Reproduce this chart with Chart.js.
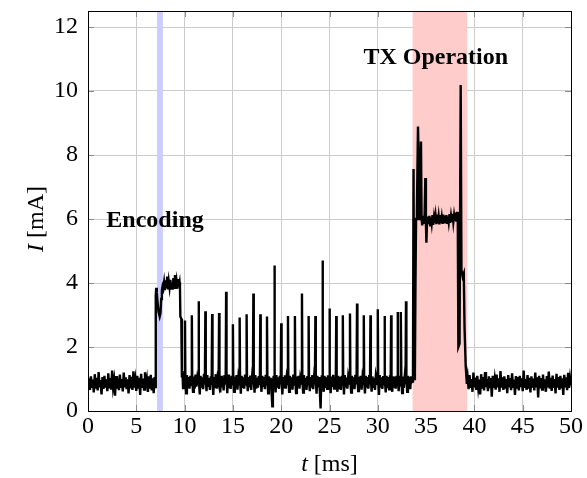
<!DOCTYPE html>
<html>
<head>
<meta charset="utf-8">
<title>Current trace</title>
<script src="https://cdn.jsdelivr.net/npm/chart.js@4.4.1/dist/chart.umd.min.js"></script>
<style>
  html, body { margin: 0; padding: 0; background: #fff; }
  #wrap { width: 587px; height: 478px; position: relative; }
</style>
</head>
<body>
<div id="wrap"><canvas id="trace"></canvas></div>
<script>
var idleBefore = [
  [0,0.80],[0.1,1.02],[0.2,0.66],[0.3,1.08],[0.4,0.72],[0.5,0.98],[0.6,0.58],[0.7,1.15],[0.8,0.70],[0.9,1.04],
  [1.0,0.64],[1.1,1.22],[1.2,0.74],[1.3,0.97],[1.4,0.52],[1.5,1.06],[1.6,0.69],[1.7,1.10],[1.8,0.73],[1.9,0.99],
  [2.0,0.62],[2.1,1.18],[2.2,0.71],[2.3,1.03],[2.4,0.67],[2.5,1.26],[2.6,0.75],[2.7,0.96],[2.8,0.48],[2.9,1.09],
  [3.0,0.70],[3.1,1.02],[3.2,0.65],[3.3,1.14],[3.4,0.72],[3.5,1.00],[3.6,0.61],[3.7,1.20],[3.8,0.74],[3.9,1.05],
  [4.0,0.68],[4.1,0.99],[4.2,0.55],[4.3,1.12],[4.4,0.71],[4.5,1.07],[4.6,0.66],[4.7,1.24],[4.8,0.73],[4.9,0.98],
  [5.0,0.63],[5.1,1.10],[5.2,0.70],[5.3,1.04],[5.4,0.50],[5.5,1.16],[5.6,0.72],[5.7,1.01],[5.8,0.67],[5.9,1.21],
  [6.0,0.74],[6.1,0.97],[6.2,0.60],[6.3,1.08],[6.4,0.70],[6.5,1.13],[6.6,0.64],[6.7,1.02],[6.8,0.56],[6.9,1.06],
  [6.95,0.75]
];

var encodingBurst = [
  [7.0,0.85],[7.03,3.6],[7.06,3.85],[7.12,3.7],[7.2,3.4],[7.3,3.1],[7.42,2.95],[7.5,3.05],[7.58,3.5],[7.65,3.78],
  [7.72,3.9],[7.8,3.82],[7.88,4.02],[7.96,3.78],[8.04,4.08],[8.12,3.84],[8.2,4.2],[8.28,3.8],[8.36,4.05],[8.44,3.86],
  [8.52,4.1],[8.6,3.83],[8.68,4.0],[8.76,3.79],[8.84,4.15],[8.92,3.85],[9.0,4.25],[9.08,3.88],[9.16,4.06],[9.24,3.82],
  [9.32,4.12],[9.4,3.9],[9.48,4.02],[9.52,3.85],[9.56,2.95],[9.66,2.88],[9.72,1.05],[9.78,1.25],[9.84,0.72],[9.92,1.08],
  [9.98,0.8]
];

var pulseTrain = [
  [10.04,2.83],[10.08,1.0],[10.16,0.55],[10.24,1.12],[10.33,0.74],[10.42,1.06],[10.51,0.7],[10.6,1.1],[10.69,0.82],
  [10.75,2.99],[10.79,0.98],[10.87,0.6],[10.95,1.08],[11.04,0.7],[11.13,1.14],[11.22,0.76],[11.31,1.02],[11.4,0.85],
  [11.45,3.43],[11.49,1.0],[11.57,0.52],[11.65,1.1],[11.74,0.73],[11.83,1.05],[11.92,0.68],[12.01,1.16],[12.1,0.84],
  [12.15,3.12],[12.19,0.96],[12.27,0.62],[12.35,1.12],[12.44,0.75],[12.53,1.03],[12.62,0.66],[12.71,1.08],[12.8,0.82],
  [12.85,3.03],[12.89,1.0],[12.97,0.5],[13.05,1.06],[13.14,0.72],[13.23,1.15],[13.32,0.7],[13.41,1.02],[13.52,0.86],
  [13.57,3.06],[13.61,0.98],[13.69,0.58],[13.77,1.1],[13.86,0.74],[13.95,1.04],[14.04,0.64],[14.13,1.12],[14.25,0.83],
  [14.3,3.73],[14.34,1.0],[14.42,0.56],[14.5,1.14],[14.59,0.71],[14.68,1.06],[14.77,0.69],[14.86,1.1],[14.95,0.85],
  [15.0,2.71],[15.04,0.97],[15.12,0.6],[15.2,1.08],[15.29,0.75],[15.38,1.12],[15.47,0.67],[15.56,1.03],[15.65,0.84],
  [15.7,2.92],[15.74,1.0],[15.82,0.54],[15.9,1.1],[15.99,0.72],[16.08,1.05],[16.17,0.7],[16.26,1.14],[16.37,0.83],
  [16.42,3.02],[16.46,0.98],[16.54,0.62],[16.62,1.06],[16.71,0.74],[16.8,1.11],[16.89,0.66],[16.98,1.04],[17.07,0.85],
  [17.12,3.67],[17.16,1.0],[17.24,0.57],[17.32,1.12],[17.41,0.7],[17.5,1.04],[17.59,0.73],[17.68,1.09],[17.79,0.82],
  [17.84,3.02],[17.88,0.96],[17.96,0.6],[18.04,1.1],[18.13,0.75],[18.22,1.06],[18.31,0.68],[18.4,1.13],[18.48,0.84],
  [18.53,2.95],[18.57,1.0],[18.65,0.55],[18.73,1.08],[18.82,0.72],[18.91,1.04],[19.0,0.62],[19.08,0.15],[19.14,0.9],[19.22,1.1],[19.26,0.85],
  [19.3,4.55],[19.34,1.0],[19.42,0.58],[19.5,1.12],[19.59,0.73],[19.68,1.05],[19.77,0.69],[19.86,1.1],[19.95,0.84],
  [20.0,2.74],[20.04,0.98],[20.12,0.52],[20.2,1.06],[20.29,0.74],[20.38,1.12],[20.47,0.7],[20.56,1.03],[20.65,0.85],
  [20.7,2.97],[20.74,1.0],[20.82,0.6],[20.9,1.1],[20.99,0.71],[21.08,1.05],[21.17,0.67],[21.26,1.14],[21.37,0.83],
  [21.42,2.97],[21.46,0.97],[21.54,0.56],[21.62,1.08],[21.71,0.75],[21.8,1.1],[21.89,0.7],[21.98,1.04],[22.1,0.86],
  [22.15,3.67],[22.19,1.0],[22.27,0.58],[22.35,1.12],[22.44,0.72],[22.53,1.04],[22.62,0.66],[22.71,1.09],[22.79,0.84],
  [22.84,2.97],[22.88,0.98],[22.96,0.62],[23.04,1.06],[23.13,0.73],[23.22,1.12],[23.31,0.68],[23.4,1.05],[23.49,0.85],
  [23.54,2.97],[23.58,1.0],[23.66,0.54],[23.74,1.1],[23.83,0.74],[23.92,1.06],[24.0,0.6],[24.08,0.08],[24.14,0.88],[24.2,1.12],[24.24,0.84],
  [24.28,4.7],[24.32,0.98],[24.4,0.6],[24.48,1.1],[24.57,0.72],[24.66,1.05],[24.75,0.69],[24.84,1.12],[24.95,0.83],
  [25.0,3.2],[25.04,1.0],[25.12,0.56],[25.2,1.08],[25.29,0.75],[25.38,1.13],[25.47,0.7],[25.56,1.04],[25.65,0.85],
  [25.7,2.97],[25.74,0.97],[25.82,0.6],[25.9,1.1],[25.99,0.72],[26.08,1.06],[26.17,0.66],[26.26,1.1],[26.33,0.84],
  [26.38,2.99],[26.42,1.0],[26.5,0.52],[26.58,1.12],[26.67,0.74],[26.76,1.04],[26.85,0.7],[26.94,1.08],[27.07,0.86],
  [27.12,3.05],[27.16,0.98],[27.24,0.58],[27.32,1.1],[27.41,0.71],[27.5,1.05],[27.59,0.68],[27.68,1.13],[27.8,0.83],
  [27.85,3.36],[27.89,1.0],[27.97,0.62],[28.05,1.07],[28.14,0.75],[28.23,1.1],[28.32,0.67],[28.41,1.03],[28.5,0.85],
  [28.55,2.99],[28.59,0.97],[28.67,0.55],[28.75,1.1],[28.84,0.73],[28.93,1.06],[29.02,0.7],[29.11,1.12],[29.19,0.84],
  [29.24,2.99],[29.28,1.0],[29.36,0.6],[29.44,1.08],[29.53,0.72],[29.62,1.04],[29.71,0.66],[29.8,1.1],[29.95,0.85],
  [30.0,3.18],[30.04,0.98],[30.12,0.5],[30.2,1.12],[30.29,0.74],[30.38,1.05],[30.47,0.69],[30.56,1.09],[30.65,0.84],
  [30.7,2.97],[30.74,1.0],[30.82,0.58],[30.9,1.1],[30.99,0.71],[31.08,1.06],[31.17,0.68],[31.26,1.12],[31.33,0.85],
  [31.38,2.99],[31.42,0.97],[31.5,0.6],[31.58,1.08],[31.67,0.73],[31.76,1.04],[31.85,0.7],[31.94,1.1],[32.0,0.86],
  [32.05,3.09],[32.09,1.0],[32.16,0.62],[32.24,1.1],[32.32,0.8],[32.36,1.0],
  [32.4,3.09],[32.44,0.98],[32.52,0.56],[32.6,1.08],[32.69,0.72],[32.78,1.05],[32.87,0.85],
  [32.92,3.43],[32.96,1.0],[33.04,0.6],[33.12,1.1],[33.2,0.72],[33.28,1.06],[33.36,0.68],[33.44,1.08],[33.52,0.9]
];

var txBurst = [
  [33.58,0.92],[33.64,1.0],[33.7,7.56],[33.76,1.0],[33.84,1.2],[33.9,4.0],[33.96,6.0],[34.05,6.3],[34.16,8.89],[34.22,8.0],
  [34.28,6.0],[34.36,6.2],[34.47,8.42],[34.53,6.0],[34.6,5.8],[34.68,6.1],[34.76,5.85],[34.84,6.05],[34.92,7.28],[34.98,5.9],
  [35.03,5.26],[35.1,5.95],[35.18,6.08],[35.26,5.84],[35.34,6.1],[35.42,5.8],[35.5,6.05],[35.58,5.86],[35.66,6.12],[35.74,5.82],
  [35.82,6.06],[35.9,5.88],[35.98,6.1],[36.06,5.84],[36.14,6.14],[36.22,5.86],[36.3,6.08],[36.38,5.83],[36.46,6.12],[36.54,5.88],
  [36.62,6.06],[36.7,5.85],[36.78,6.14],[36.86,5.9],[36.94,6.1],[37.02,5.86],[37.1,6.12],[37.18,5.88],[37.26,6.08],[37.34,5.9],
  [37.42,6.15],[37.5,5.88],[37.58,6.1],[37.66,5.92],[37.74,6.16],[37.82,5.9],[37.9,6.12],[37.98,5.95],[38.06,6.2],[38.14,5.92],
  [38.22,6.22],[38.28,6.0],[38.34,2.0],[38.46,2.1],[38.58,10.19],[38.66,4.4],[38.78,4.2],[38.9,4.3],[38.98,2.6],[39.1,1.4],
  [39.22,0.85]
];

var idleAfter = [
  [39.3,1.05],[39.4,0.68],[39.5,1.12],[39.6,0.72],[39.7,1.0],[39.8,0.6],[39.9,1.2],[40.0,0.74],[40.1,1.04],[40.2,0.66],
  [40.3,1.1],[40.4,0.73],[40.5,0.98],[40.6,0.52],[40.7,1.15],[40.8,0.7],[40.9,1.06],[41.0,0.64],[41.1,1.22],[41.2,0.75],
  [41.3,1.0],[41.4,0.62],[41.5,1.08],[41.6,0.71],[41.7,1.03],[41.8,0.45],[41.9,1.1],[42.0,0.72],[42.1,0.99],[42.2,0.67],
  [42.3,1.14],[42.4,0.74],[42.5,1.02],[42.6,0.6],[42.7,1.25],[42.8,0.73],[42.9,1.05],[43.0,0.66],[43.1,1.08],[43.2,0.7],
  [43.3,1.0],[43.4,0.56],[43.5,1.12],[43.6,0.74],[43.7,1.03],[43.8,0.65],[43.9,1.18],[44.0,0.72],[44.1,0.98],[44.2,0.5],
  [44.3,1.09],[44.4,0.7],[44.5,1.06],[44.6,0.64],[44.7,1.1],[44.8,0.75],[44.9,1.02],[45.0,0.62],[45.1,1.26],[45.2,0.72],
  [45.3,1.0],[45.4,0.66],[45.5,1.12],[45.6,0.7],[45.7,1.04],[45.8,0.58],[45.9,1.08],[46.0,0.73],[46.1,1.01],[46.2,0.64],
  [46.3,1.2],[46.4,0.74],[46.5,1.05],[46.6,0.42],[46.7,1.1],[46.8,0.71],[46.9,1.03],[47.0,0.67],[47.1,1.14],[47.2,0.72],
  [47.3,0.99],[47.4,0.6],[47.5,1.09],[47.6,0.74],[47.7,1.23],[47.8,0.7],[47.9,1.04],[48.0,0.63],[48.1,1.11],[48.2,0.72],
  [48.3,1.0],[48.4,0.55],[48.5,1.16],[48.6,0.73],[48.7,1.06],[48.8,0.66],[48.9,1.1],[49.0,0.71],[49.1,1.02],[49.2,0.5],
  [49.3,1.13],[49.4,0.74],[49.5,1.05],[49.6,0.65],[49.7,1.19],[49.8,0.72],[49.9,1.03],[50.0,0.8]
];

// shaded windows [from, to] in ms
var encodingWindow = [7.15, 7.75];
var txWindow = [33.6, 39.25];

// text notes: label, t (ms), I (mA)
var noteLabels = ['Encoding', 'TX Operation'];
var noteT = [6.94, 36.0];
var noteI = [5.95, 11.03];

var xTickValues = [0, 5, 10, 15, 20, 25, 30, 35, 40, 45, 50];
var yTickValues = [0, 2, 4, 6, 8, 10, 12];

var SERIF = '"Liberation Serif", "Times New Roman", Times, serif';

var trace = idleBefore.concat(encodingBurst, pulseTrain, txBurst, idleAfter).map(function(p) {
  return { x: p[0], y: p[1] };
});

// draws mixed italic/upright text centred on (0,0) of current transform
function mixedText(ctx, italicPart, rest, size) {
  ctx.font = 'italic ' + size + 'px ' + SERIF;
  var w1 = ctx.measureText(italicPart).width;
  ctx.font = size + 'px ' + SERIF;
  var w2 = ctx.measureText(rest).width;
  var x0 = -(w1 + w2) / 2;
  ctx.textAlign = 'left';
  ctx.textBaseline = 'middle';
  ctx.font = 'italic ' + size + 'px ' + SERIF;
  ctx.fillText(italicPart, x0, 0);
  ctx.font = size + 'px ' + SERIF;
  ctx.fillText(rest, x0 + w1, 0);
}

var decor = {
  id: 'decor',
  beforeDatasetsDraw: function(chart) {
    var ctx = chart.ctx, a = chart.chartArea;
    var xs = chart.scales.x, ys = chart.scales.y;
    ctx.save();
    // small inward ticks on every side
    ctx.strokeStyle = '#8c8c8c';
    ctx.lineWidth = 1;
    ctx.beginPath();
    xTickValues.forEach(function(v) {
      var px = Math.round(xs.getPixelForValue(v)) + 0.5;
      ctx.moveTo(px, a.bottom); ctx.lineTo(px, a.bottom - 6);
      ctx.moveTo(px, a.top); ctx.lineTo(px, a.top + 6);
    });
    yTickValues.forEach(function(v) {
      var py = Math.round(ys.getPixelForValue(v)) + 0.5;
      ctx.moveTo(a.left, py); ctx.lineTo(a.left + 6, py);
      ctx.moveTo(a.right, py); ctx.lineTo(a.right - 6, py);
    });
    ctx.stroke();

    var wins = [[encodingWindow, '#ccccff'], [txWindow, '#ffcccc']];
    wins.forEach(function(w) {
      var x0 = xs.getPixelForValue(w[0][0]);
      var x1 = xs.getPixelForValue(w[0][1]);
      ctx.fillStyle = w[1];
      ctx.fillRect(x0, a.top, x1 - x0, a.bottom - a.top);
    });
    ctx.restore();
  },
  afterDatasetsDraw: function(chart) {
    var ctx = chart.ctx, a = chart.chartArea;
    var xs = chart.scales.x, ys = chart.scales.y;
    ctx.save();
    ctx.strokeStyle = '#000';
    ctx.lineWidth = 1;
    ctx.strokeRect(Math.round(a.left) + 0.5, Math.round(a.top) + 0.5,
      Math.round(a.right - a.left), Math.round(a.bottom - a.top));

    ctx.fillStyle = '#000';
    ctx.font = 'bold 24px ' + SERIF;
    ctx.textAlign = 'center';
    ctx.textBaseline = 'middle';
    noteLabels.forEach(function(txt, i) {
      ctx.fillText(txt, xs.getPixelForValue(noteT[i]), ys.getPixelForValue(noteI[i]));
    });

    // axis titles
    ctx.save();
    ctx.translate((a.left + a.right) / 2, 465);
    mixedText(ctx, 't', ' [ms]', 24);
    ctx.restore();
    ctx.save();
    ctx.translate(37, (a.top + a.bottom) / 2 + 8);
    ctx.rotate(-Math.PI / 2);
    mixedText(ctx, 'I', ' [mA]', 24);
    ctx.restore();
    ctx.restore();
  }
};

var ctx = document.getElementById('trace');
var chart = new Chart(ctx, {
  type: 'line',
  data: {
    datasets: [{
      label: 'I',
      data: trace,
      borderColor: '#000',
      borderWidth: 2.4,
      pointRadius: 0,
      tension: 0,
      fill: false
    }]
  },
  options: {
    responsive: true,
    maintainAspectRatio: false,
    animation: false,
    events: [],
    layout: { padding: { left: 0, right: 16, top: 11, bottom: 0 } },
    plugins: {
      legend: { display: false },
      tooltip: { enabled: false }
    },
    scales: {
      x: {
        type: 'linear',
        min: 0,
        max: 50,
        afterBuildTicks: function(scale) {
          scale.ticks = xTickValues.map(function(v) { return { value: v }; });
        },
        afterFit: function(scale) {
          scale.height = 67;
          scale.paddingLeft = 0; scale.paddingRight = 0;
        },
        grid: { color: '#cccccc', lineWidth: 1, drawTicks: false },
        border: { display: false },
        ticks: {
          color: '#000',
          font: { family: SERIF, size: 24 },
          padding: 1,
          maxRotation: 0,
          autoSkip: false
        }
      },
      y: {
        type: 'linear',
        min: 0,
        max: 12.5,
        afterBuildTicks: function(scale) {
          scale.ticks = yTickValues.map(function(v) { return { value: v }; });
        },
        afterFit: function(scale) {
          scale.width = 88;
          scale.paddingTop = 0; scale.paddingBottom = 0;
        },
        grid: { color: '#cccccc', lineWidth: 1, drawTicks: false },
        border: { display: false },
        ticks: {
          color: '#000',
          font: { family: SERIF, size: 24 },
          padding: 10
        }
      }
    }
  },
  plugins: [decor]
});
</script>
</body>
</html>
